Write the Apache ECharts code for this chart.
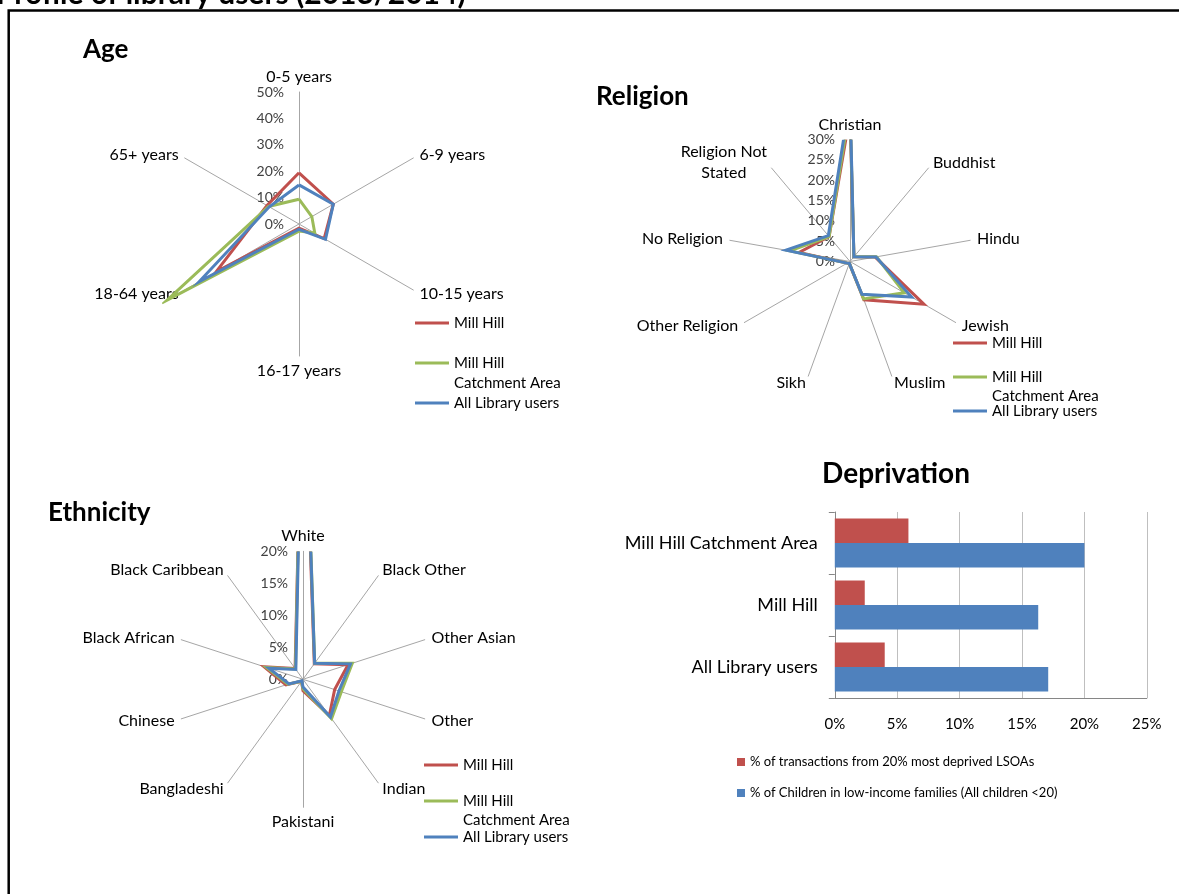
<!DOCTYPE html>
<html><head><meta charset="utf-8">
<script src="https://cdn.jsdelivr.net/npm/echarts@6/dist/echarts.min.js"></script>
<style>html,body{margin:0;padding:0;background:#fff}#c{width:1179px;height:894px}</style>
</head><body><div id="c"></div>
<script>
// ---------- data ----------
const seriesNames = ['Mill Hill', 'Mill Hill Catchment Area', 'All Library users'];

const ageCategories = ['0-5 years', '6-9 years', '10-15 years', '16-17 years', '18-64 years', '65+ years'];
const ageMillHill   = [19.4, 15.0, 11.0, 1.6, 36.3, 14.0];
const ageCatchment  = [9.4, 5.6, 6.9, 2.7, 57.7, 13.3];
const ageAllUsers   = [14.8, 15.0, 11.6, 2.0, 43.6, 13.0];
const ageAxis = {max: 50, interval: 10};

const religionCategories = ['Christian', 'Buddhist', 'Hindu', 'Jewish', 'Muslim', 'Sikh', 'Other Religion', 'No Religion', 'Religion Not Stated'];
const religionMillHill  = [36, 1.5, 6.3, 21.0, 10.0, 0.5, 0.8, 12.7, 8.0];
const religionCatchment = [38, 1.5, 6.6, 15.4, 9.8, 0.5, 0.8, 15.0, 8.0];
const religionAllUsers  = [40, 1.5, 6.5, 17.5, 8.6, 0.5, 0.8, 16.0, 8.3];
const religionAxis = {max: 30, interval: 5};

const ethnicityCategories = ['White', 'Black Other', 'Other Asian', 'Other', 'Indian', 'Pakistani', 'Bangladeshi', 'Chinese', 'Black African', 'Black Caribbean'];
const ethnicityMillHill  = [54, 3.0, 7.4, 5.2, 7.0, 1.8, 0.4, 2.8, 6.4, 2.1];
const ethnicityCatchment = [57, 3.1, 8.1, 6.3, 7.6, 1.5, 0.4, 2.5, 6.0, 2.0];
const ethnicityAllUsers  = [55, 3.1, 7.8, 5.9, 7.3, 1.2, 0.3, 2.3, 5.6, 1.9];
const ethnicityAxis = {max: 20, interval: 5};

const deprivationCategories = ['All Library users', 'Mill Hill', 'Mill Hill Catchment Area'];
const deprivationTransactions = [4.0, 2.4, 5.9];
const deprivationChildren = [17.1, 16.3, 20.0];
const deprivationNames = ['% of transactions from 20% most deprived LSOAs', '% of Children in low-income families (All children <20)'];
const deprivationAxis = {max: 25, interval: 5};

// ---------- styling ----------
const FONT = 'Lato, "Open Sans", sans-serif';
const RED = '#C0504D', GREEN = '#9BBB59', BLUE = '#4F81BD';
const lineColors = [RED, GREEN, BLUE];

// drawMax: extent of the drawing (clip) area; lines beyond it are cut like in the original
const radars = [
  {cats: ageCategories, vals: [ageMillHill, ageCatchment, ageAllUsers], axis: ageAxis, drawMax: 60,
   center: [299, 224], radius: 132, legend: {left: 415, top: 313, lh: 20, gap: 0}},
  {cats: religionCategories, vals: [religionMillHill, religionCatchment, religionAllUsers], axis: religionAxis, drawMax: 30,
   center: [850, 261.5], radius: 122, legend: {left: 953, top: 333.5, lh: 19, gap: -4}},
  {cats: ethnicityCategories, vals: [ethnicityMillHill, ethnicityCatchment, ethnicityAllUsers], axis: ethnicityAxis, drawMax: 20,
   center: [303, 679.3], radius: 128, legend: {left: 424, top: 755.5, lh: 19, gap: -2}}
];

const radarOpt = [], polarOpt = [], angleAxisOpt = [], radiusAxisOpt = [], series = [], legendOpt = [];

radars.forEach((r, i) => {
  const n = r.cats.length;
  // ECharts radar lays indicators counter-clockwise: reverse to get clockwise order
  const ordered = [r.cats[0]].concat(r.cats.slice(1).reverse());
  radarOpt.push({
    center: r.center, radius: r.radius, startAngle: 90, axisNameGap: 7, splitNumber: 1,
    indicator: ordered.map(name => ({name: name, min: 0, max: r.axis.max})),
    axisName: {
      color: '#000', fontSize: 16, fontFamily: FONT,
      formatter: v => v === 'Religion Not Stated' ? '{c|Religion Not}\n{c|Stated}' : v,
      rich: {c: {align: 'center', fontSize: 16, fontFamily: FONT, color: '#000', lineHeight: 21}}
    },
    axisLine: {lineStyle: {color: '#a6a6a6', width: 1}},
    splitLine: {show: false}, splitArea: {show: false},
    axisTick: {show: false}, axisLabel: {show: false}
  });
  polarOpt.push({center: r.center, radius: r.radius * r.drawMax / r.axis.max});
  angleAxisOpt.push({
    polarIndex: i, type: 'value', min: 0, max: n, startAngle: 90, clockwise: true,
    axisLine: {show: false}, axisTick: {show: false}, axisLabel: {show: false}, splitLine: {show: false}
  });
  radiusAxisOpt.push({
    polarIndex: i, type: 'value', min: 0, max: r.drawMax, interval: r.axis.interval,
    axisLine: {show: false}, axisTick: {show: false}, splitLine: {show: false},
    axisLabel: {formatter: v => v > r.axis.max ? '' : v + '%', margin: 15, fontSize: 14, color: '#404040', fontFamily: FONT}
  });
  r.vals.forEach((vals, k) => {
    const data = vals.map((v, idx) => [v, idx]);
    data.push([vals[0], n]);
    series.push({
      type: 'line', name: seriesNames[k], coordinateSystem: 'polar', polarIndex: i,
      data: data, symbol: 'none', clip: true, silent: true,
      lineStyle: {color: lineColors[k], width: 3, join: 'miter'},
      itemStyle: {color: lineColors[k]}, z: 3 + k
    });
  });
  legendOpt.push({
    orient: 'vertical', left: r.legend.left, top: r.legend.top, padding: 0,
    itemGap: r.legend.gap, itemWidth: 34, itemHeight: 3, icon: 'rect', selectedMode: false,
    textStyle: {fontSize: 15, lineHeight: r.legend.lh, color: '#000', fontFamily: FONT},
    // leading empty line keeps the first text line level with the legend line
    formatter: nm => nm === 'Mill Hill Catchment Area' ? '\nMill Hill\nCatchment Area' : nm,
    data: seriesNames
  });
});

// deprivation bars
series.push({
  type: 'bar', name: deprivationNames[0], data: deprivationTransactions, xAxisIndex: 0, yAxisIndex: 0,
  itemStyle: {color: RED}, barGap: '0%', barCategoryGap: '21%', silent: true
});
series.push({
  type: 'bar', name: deprivationNames[1], data: deprivationChildren, xAxisIndex: 0, yAxisIndex: 0,
  itemStyle: {color: BLUE}, barGap: '0%', barCategoryGap: '21%', silent: true
});
legendOpt.push({
  orient: 'vertical', left: 737, top: 754, padding: 0, itemGap: 15, itemWidth: 8, itemHeight: 8,
  icon: 'rect', selectedMode: false,
  textStyle: {fontSize: 13, lineHeight: 16, color: '#000', fontFamily: FONT},
  data: deprivationNames
});

const titleStyle = (text, x, y, size) => ({
  type: 'text', x: x, y: y, silent: true,
  style: {text: text, fontSize: size, fontWeight: 'bold', fontFamily: FONT, fill: '#000',
          align: 'left', verticalAlign: 'middle', textAlign: 'left', textVerticalAlign: 'middle'}
});

const option = {
  animation: false,
  backgroundColor: '#fff',
  radar: radarOpt,
  polar: polarOpt,
  angleAxis: angleAxisOpt,
  radiusAxis: radiusAxisOpt,
  grid: [{left: 834.8, top: 512, width: 312, height: 186, containLabel: false}],
  xAxis: [{
    type: 'value', gridIndex: 0, min: 0, max: deprivationAxis.max, interval: deprivationAxis.interval,
    axisLine: {show: true, lineStyle: {color: '#868686'}}, axisTick: {show: false},
    splitLine: {show: true, lineStyle: {color: '#bfbfbf'}},
    axisLabel: {formatter: '{value}%', fontSize: 15, color: '#000', margin: 19, fontFamily: FONT}
  }],
  yAxis: [{
    type: 'category', gridIndex: 0, data: deprivationCategories,
    axisLine: {show: true, lineStyle: {color: '#868686'}},
    axisTick: {show: true, length: 6, lineStyle: {color: '#868686'}},
    axisLabel: {fontSize: 18, color: '#000', margin: 17, fontFamily: FONT}
  }],
  legend: legendOpt,
  series: series,
  graphic: [
    {type: 'rect', silent: true, shape: {x: 8.7, y: 10.5, width: 1300, height: 1000},
     style: {fill: null, stroke: '#000', lineWidth: 2.5}},
    titleStyle('Profile of library users (2013/2014)', -4, -6, 30),
    titleStyle('Age', 83, 50, 26),
    titleStyle('Religion', 596, 97, 26),
    titleStyle('Ethnicity', 48, 513, 26),
    {type: 'text', x: 896, y: 474, silent: true,
     style: {text: 'Deprivation', fontSize: 28, fontWeight: 'bold', fontFamily: FONT, fill: '#000',
             align: 'center', verticalAlign: 'middle', textAlign: 'center', textVerticalAlign: 'middle'}}
  ]
};

const chart = echarts.init(document.getElementById('c'));
chart.setOption(option);
</script></body></html>
